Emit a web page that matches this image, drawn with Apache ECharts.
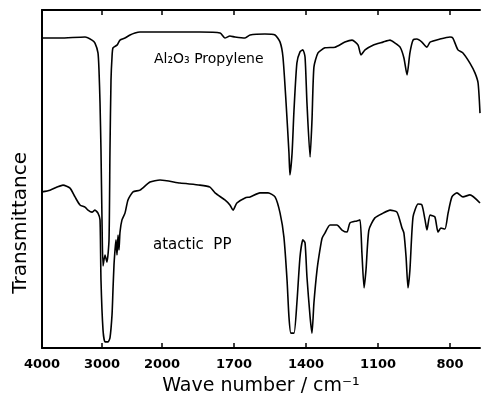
<!DOCTYPE html>
<html>
<head>
<meta charset="utf-8">
<script src="https://cdn.jsdelivr.net/npm/echarts@6/dist/echarts.min.js"></script>
<style>
  html, body { margin: 0; padding: 0; background: #fff; }
  #chart { width: 481px; height: 396px; }
</style>
</head>
<body>
<div id="chart"></div>
<script>
// wave number tick labels (axis is compressed above 2000 cm-1)
const TICK_LABELS = [4000, 3000, 2000, 1700, 1400, 1100, 800];

// Al2O3 + propylene spectrum (upper trace)
const propyleneWn = [4000, 3700, 3283, 3167, 3117, 3067, 3050, 3033, 3017, 3000, 2983, 2950, 2917, 2883, 2867, 2850, 2833, 2817, 2750, 2700, 2617, 2533, 2450, 2367, 2200, 2033,
  1925, 1842, 1758, 1738, 1717, 1696, 1654, 1633, 1571, 1529, 1508, 1496, 1483, 1471, 1467, 1458, 1450, 1438, 1425, 1413, 1404, 1396, 1383, 1375, 1367, 1350,
  1321, 1279, 1238, 1208, 1183, 1171, 1154, 1121, 1079, 1050, 1029, 1008, 992, 979, 967, 954, 938, 917, 896, 883, 842, 800, 788, 767, 746, 717, 696, 683, 675];
const propyleneT = [91.7, 91.7, 92, 91.1, 90.2, 87.3, 82.2, 72.5, 58.6, 37.9, 24.3, 27.5, 25.4, 32, 58.6, 79.3, 86.1, 88.8, 89.6, 91.1, 91.7, 92.6, 93.2, 93.5, 93.5, 93.5,
  93.5, 93.5, 93.2, 91.7, 92.3, 92, 91.7, 92.6, 92.9, 92.6, 90.5, 86.1, 72.5, 57.7, 51.2, 57.7, 70.4, 84.3, 87.6, 88.2, 86.1, 72.5, 56.5, 67.5, 83.1, 87.3,
  88.8, 89, 90.5, 91.1, 89.6, 86.7, 88.2, 89.6, 90.5, 91.1, 90.2, 89, 85.8, 80.8, 87.3, 91.1, 91.4, 90.5, 89, 90.5, 91.4, 92, 91.7, 88.2, 87.3, 84.3, 81.4, 78.4, 69.5];

// atactic polypropylene spectrum (lower trace)
const atacticWn = [4000, 3867, 3750, 3650, 3533, 3450, 3367, 3283, 3233, 3167, 3117, 3067, 3033, 3017, 2983, 2950, 2900, 2867, 2833, 2817, 2800, 2783, 2767, 2750, 2733, 2717, 2700,
  2667, 2617, 2567, 2483, 2367, 2200, 2033, 1925, 1842, 1800, 1779, 1738, 1717, 1704, 1688, 1654, 1633, 1592, 1558, 1529, 1508, 1492, 1479, 1471, 1463, 1450,
  1438, 1425, 1413, 1404, 1396, 1383, 1375, 1367, 1354, 1342, 1333, 1321, 1300, 1271, 1250, 1229, 1217, 1188, 1175, 1167, 1158, 1150, 1138, 1113, 1079, 1050,
  1021, 1000, 992, 983, 975, 967, 954, 933, 917, 904, 896, 883, 863, 850, 838, 821, 808, 792, 771, 746, 717, 675];
const atacticT = [46.2, 46.7, 47.6, 48.2, 47.3, 44.7, 42.3, 41.7, 40.8, 40.2, 40.8, 39.9, 37.9, 20.1, 5.3, 1.8, 1.8, 3, 9.8, 17.2, 24.6, 29, 32, 27.5, 33.4, 29, 34.3,
  37.9, 39.9, 43.8, 46.2, 46.7, 49.1, 49.7, 48.8, 48.2, 47.6, 45.9, 43.8, 42.3, 40.8, 42.9, 44.4, 44.7, 45.9, 45.9, 44.7, 39.9, 32.8, 20.1, 9.2, 4.4, 4.4,
  13.3, 26.9, 32, 31.1, 21, 9.2, 4.4, 13.3, 23.1, 29, 32.5, 34, 36.4, 36.4, 34.9, 34.3, 37, 37.6, 37.9, 28.1, 17.8, 23.1, 34.9, 38.5, 39.9, 40.8,
  40.2, 35.5, 34, 26.9, 17.8, 23.1, 38.8, 42.6, 42.3, 37.9, 34.9, 39.3, 38.8, 34.3, 35.5, 35.2, 39.9, 44.7, 45.9, 44.7, 45.3, 42.9];

// 2000 cm-1 以上 1000 cm-1/格，以下 250 cm-1/格
function toAxis(nu) {
  return nu >= 2000 ? (4000 - nu) / 1000 : 2 + (2000 - nu) / 250;
}
function fromAxis(u) {
  return u <= 2 ? 4000 - u * 1000 : 2000 - (u - 2) * 250;
}

const pairs = (wn, t) => wn.map((nu, i) => [toAxis(nu), t[i]]);
const tickPos = TICK_LABELS.map(toAxis);
const FONT = 'DejaVu Sans';

const chart = echarts.init(document.getElementById('chart'), null, { renderer: 'canvas' });

const lineSeries = (name, data) => ({
  name,
  type: 'line',
  data,
  showSymbol: false,
  smooth: 0.2,
  lineStyle: { color: '#000', width: 1.6 },
  silent: true,
});

chart.setOption({
  animation: false,
  backgroundColor: '#fff',
  grid: { left: 42, right: 1, top: 10, bottom: 48, outerBoundsMode: 'none' },
  xAxis: [
    {
      type: 'value',
      min: 0,
      max: toAxis(675),
      position: 'bottom',
      name: 'Wave number / cm\u207B\u00B9',
      nameLocation: 'middle',
      nameGap: 29,
      nameTextStyle: { fontFamily: FONT, fontSize: 19, color: '#000' },
      axisLine: { show: true, lineStyle: { color: '#000', width: 2 } },
      axisTick: { show: true, inside: true, length: 5, customValues: tickPos, lineStyle: { color: '#000', width: 1.5 } },
      axisLabel: {
        customValues: tickPos,
        formatter: (v) => String(Math.round(fromAxis(v))),
        fontFamily: FONT, fontSize: 13, fontWeight: 'bold', color: '#000', margin: 10,
      },
      splitLine: { show: false },
    },
    {
      type: 'value',
      min: 0,
      max: toAxis(675),
      position: 'top',
      axisLine: { show: true, lineStyle: { color: '#000', width: 2 } },
      axisTick: { show: true, inside: true, length: 5, customValues: tickPos, lineStyle: { color: '#000', width: 1.5 } },
      axisLabel: { show: false },
      splitLine: { show: false },
    },
  ],
  yAxis: {
    type: 'value',
    min: 0,
    max: 100,
    axisLine: { show: true, lineStyle: { color: '#000', width: 2 } },
    axisTick: { show: false },
    axisLabel: { show: false },
    splitLine: { show: false },
  },
  graphic: [
    {
      type: 'text', left: 11, top: 152, rotation: Math.PI / 2,
      style: { text: 'Transmittance', fontFamily: FONT, fontSize: 20, fill: '#000' },
    },
    {
      type: 'text', left: 154, top: 52,
      style: { text: 'Al\u2082O\u2083 Propylene', fontFamily: FONT, fontSize: 14, fill: '#000' },
    },
    {
      type: 'text', left: 153, top: 238,
      style: { text: 'atactic  PP', fontFamily: FONT, fontSize: 15, fill: '#000' },
    },
  ],
  series: [
    lineSeries('Al2O3 Propylene', pairs(propyleneWn, propyleneT)),
    lineSeries('atactic PP', pairs(atacticWn, atacticT)),
  ],
});
</script>
</body>
</html>
